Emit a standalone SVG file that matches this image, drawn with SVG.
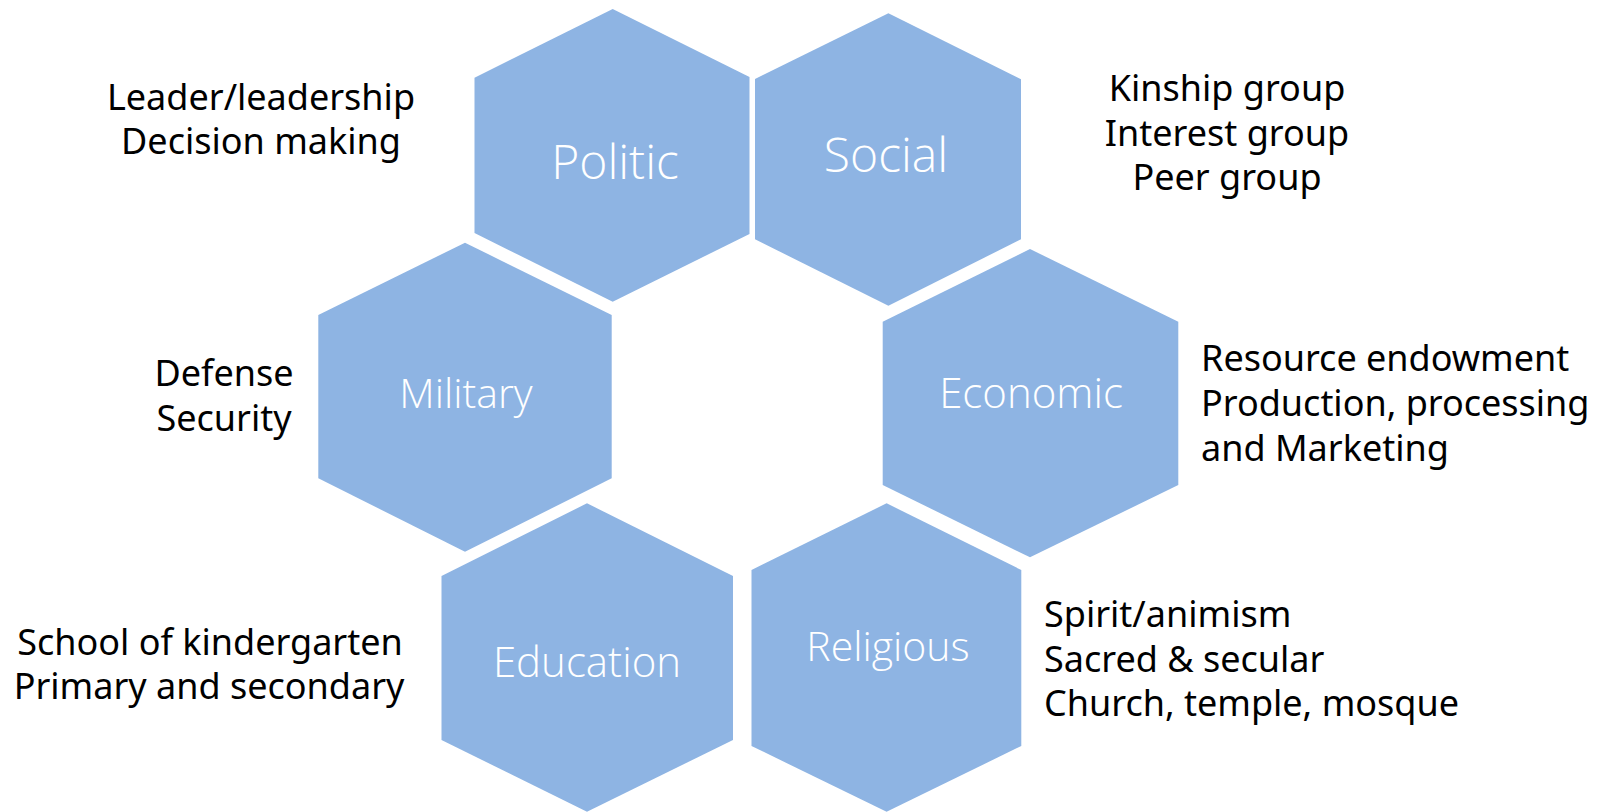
<svg xmlns="http://www.w3.org/2000/svg" width="1604" height="812" viewBox="0 0 1604 812">
<style>
.hex{fill:#8EB4E3;stroke:none}
.lbl{font-family:"Open Sans","Noto Sans","Liberation Sans",sans-serif;font-weight:300;fill:#FFFFFF;text-anchor:middle}
.side{font-family:"Noto Sans","Open Sans","Liberation Sans",sans-serif;font-size:36px;fill:#000000}
.c{text-anchor:middle}
.l{text-anchor:start}
</style>
<rect width="1604" height="812" fill="#FFFFFF"/>
<g id="politic">
<polygon class="hex" points="612.7,9 749.5,77 749.5,234 612.7,301.7 474.5,233 474.5,77.7"/>
<text class="lbl" x="615" y="179" font-size="48">Politic</text>
</g>
<g id="social">
<polygon class="hex" points="888.4,13.3 1021,79.3 1021,239.3 888.4,305.7 755,239.3 755,79"/>
<text class="lbl" x="886" y="172" font-size="48">Social</text>
</g>
<g id="military">
<polygon class="hex" points="465,242.7 611.7,315 611.7,478.3 465,551.7 318.3,478.3 318.3,315"/>
<text class="lbl" x="466" y="408" font-size="41">Military</text>
</g>
<g id="economic">
<polygon class="hex" points="1030,249 1178.3,321.7 1178.3,485 1030,557.3 882.7,485 882.7,321.7"/>
<text class="lbl" x="1031" y="408" font-size="42">Economic</text>
</g>
<g id="education">
<polygon class="hex" points="587,503.3 733,576 733,740 587,811.7 441.5,740 441.5,576"/>
<text class="lbl" x="587" y="677" font-size="42">Education</text>
</g>
<g id="religious">
<polygon class="hex" points="886.6,503.3 1021.3,570 1021.3,746 886.6,811.7 751.5,746 751.5,570"/>
<text class="lbl" x="888" y="661" font-size="41">Religious</text>
</g>
<g id="politic-notes">
<text class="side c" x="261" y="110">Leader/leadership</text>
<text class="side c" x="261" y="154">Decision making</text>
</g>
<g id="social-notes">
<text class="side c" x="1227" y="101">Kinship group</text>
<text class="side c" x="1227" y="146">Interest group</text>
<text class="side c" x="1227" y="190">Peer group</text>
</g>
<g id="military-notes">
<text class="side c" x="224" y="386">Defense</text>
<text class="side c" x="224" y="431">Security</text>
</g>
<g id="economic-notes">
<text class="side l" x="1201" y="371">Resource endowment</text>
<text class="side l" x="1201" y="416">Production, processing</text>
<text class="side l" x="1201" y="461">and Marketing</text>
</g>
<g id="education-notes">
<text class="side c" x="210" y="655">School of kindergarten</text>
<text class="side c" x="209" y="699">Primary and secondary</text>
</g>
<g id="religious-notes">
<text class="side l" x="1044" y="627">Spirit/animism</text>
<text class="side l" x="1044" y="672">Sacred &amp; secular</text>
<text class="side l" x="1044" y="716">Church, temple, mosque</text>
</g>
<g id="connectors"/>
</svg>
